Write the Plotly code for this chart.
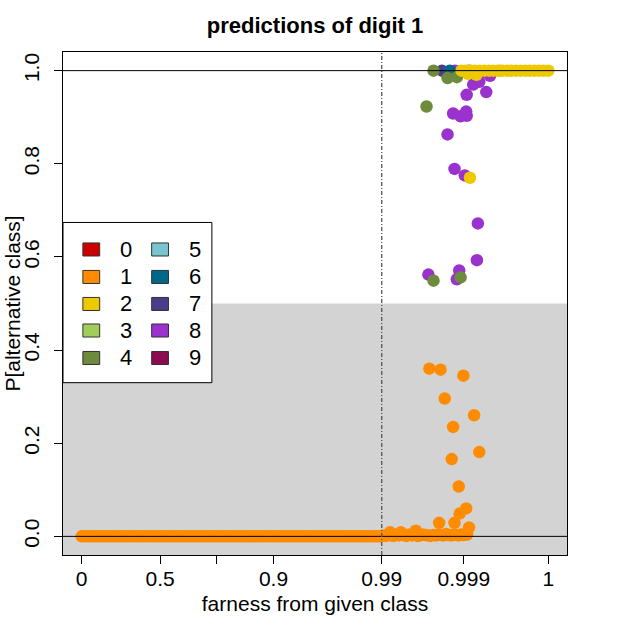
import plotly.graph_objects as go

# eje x transformado: posicion (0-1) de cada marca de "farness"
x_tick_pos = [0.0, 0.168, 0.288, 0.411, 0.643, 0.819, 1.0]
x_tick_lab = ["0", "0.5", "", "0.9", "0.99", "0.999", "1"]
y_tick_pos = [0.0, 0.2, 0.4, 0.6, 0.8, 1.0]
y_tick_lab = ["0.0", "0.2", "0.4", "0.6", "0.8", "1.0"]

digits = ["0", "1", "2", "3", "4", "5", "6", "7", "8", "9"]
colores = ["#CD0000", "#FF8C00", "#EEC900", "#A2CD5A", "#6E8B3D",
           "#7AC5CD", "#00688B", "#483D8B", "#9A32CD", "#8B0A50"]

# digito 1 (naranja): banda densa cerca de 0 y puntos dispersos
uno_x = [0.000, 0.006, 0.011, 0.017, 0.023, 0.029, 0.034, 0.040, 0.046, 0.052,
         0.058, 0.063, 0.069, 0.075, 0.081, 0.087, 0.093, 0.098, 0.104, 0.110,
         0.116, 0.122, 0.128, 0.133, 0.139, 0.145, 0.151, 0.157, 0.163, 0.169,
         0.175, 0.180, 0.186, 0.192, 0.198, 0.204, 0.210, 0.215, 0.221, 0.227,
         0.233, 0.239, 0.245, 0.250, 0.256, 0.262, 0.268, 0.274, 0.280, 0.285,
         0.291, 0.297, 0.303, 0.309, 0.315, 0.320, 0.326, 0.332, 0.338, 0.344,
         0.350, 0.355, 0.361, 0.367, 0.373, 0.379, 0.385, 0.390, 0.396, 0.402,
         0.408, 0.414, 0.420, 0.425, 0.431, 0.437, 0.443, 0.449, 0.455, 0.460,
         0.466, 0.472, 0.478, 0.484, 0.490, 0.495, 0.501, 0.507, 0.513, 0.519,
         0.525, 0.530, 0.536, 0.542, 0.548, 0.554, 0.560, 0.565, 0.571, 0.577,
         0.583, 0.589, 0.595, 0.600, 0.606, 0.612, 0.618, 0.624, 0.630, 0.636,
         0.641, 0.647, 0.652, 0.658, 0.663, 0.669, 0.674, 0.680, 0.686, 0.692,
         0.697, 0.703, 0.708, 0.714, 0.720, 0.725, 0.731, 0.737, 0.742, 0.748,
         0.753, 0.759, 0.764, 0.770, 0.775, 0.781, 0.786, 0.792, 0.797, 0.803,
         0.808, 0.813, 0.818, 0.822, 0.826,
         0.745, 0.769, 0.818, 0.778, 0.841, 0.796, 0.852, 0.793, 0.808, 0.824,
         0.810, 0.766, 0.799, 0.830, 0.716, 0.684, 0.661]
uno_y = [0.0] * 111 + \
        [0.002, 0.001, 0.003, 0.002, 0.001, 0.004, 0.002, 0.003, 0.002, 0.001,
         0.004, 0.002, 0.003, 0.001, 0.002, 0.004, 0.003, 0.002, 0.001, 0.003,
         0.002, 0.004, 0.003, 0.002, 0.005, 0.003, 0.002, 0.004, 0.003, 0.002,
         0.004, 0.003, 0.005, 0.004] + \
        [0.360, 0.358, 0.345, 0.296, 0.260, 0.235, 0.181, 0.166, 0.107, 0.060,
         0.049, 0.029, 0.029, 0.019, 0.012, 0.009, 0.009]

# digito 2 (amarillo)
dos_x = [0.814, 0.824, 0.834, 0.843, 0.853, 0.863, 0.873, 0.882, 0.892, 0.902,
         0.912, 0.921, 0.931, 0.941, 0.951, 0.960, 0.970, 0.980, 0.990, 1.000,
         0.846, 0.828, 0.832]
dos_y = [1.0] * 20 + [0.991, 0.993, 0.770]

# digito 3
tres_x = [0.896]
tres_y = [1.0]

# digito 4 (olivo)
cuatro_x = [0.754, 0.784, 0.804, 0.739, 0.754, 0.812]
cuatro_y = [1.0, 0.984, 0.986, 0.923, 0.549, 0.556]

# digito 6 y 7
seis_x = [0.789]
seis_y = [1.0]
siete_x = [0.772]
siete_y = [1.0]

# digito 8 (morado)
ocho_x = [0.800, 0.830, 0.860, 0.839, 0.852, 0.875, 0.825, 0.867, 0.796, 0.812,
          0.824, 0.825, 0.784, 0.799, 0.821, 0.849, 0.847, 0.743, 0.809, 0.804]
ocho_y = [1.0, 1.0, 0.997, 0.970, 0.976, 0.989, 0.948, 0.954, 0.908, 0.902,
          0.912, 0.903, 0.863, 0.789, 0.775, 0.672, 0.593, 0.562, 0.571, 0.552]

series = [("8", ocho_x, ocho_y), ("3", tres_x, tres_y), ("7", siete_x, siete_y),
          ("6", seis_x, seis_y), ("4", cuatro_x, cuatro_y), ("2", dos_x, dos_y),
          ("1", uno_x, uno_y)]

fig = go.Figure()
for d, xs, ys in series:
    fig.add_trace(go.Scatter(
        x=xs, y=ys, mode="markers", name=d, showlegend=False,
        marker=dict(size=12.5, color=colores[int(d)], line=dict(width=0)),
        hoverinfo="skip"))

shapes = [
    # fondo gris para P < 0.5
    dict(type="rect", xref="x", yref="y", x0=-0.04, x1=1.04, y0=-0.04, y1=0.5,
         fillcolor="#D3D3D3", line=dict(width=0), layer="below"),
    dict(type="line", xref="x", yref="y", x0=-0.04, x1=1.04, y0=0, y1=0,
         line=dict(color="black", width=1), layer="above"),
    dict(type="line", xref="x", yref="y", x0=-0.04, x1=1.04, y0=1, y1=1,
         line=dict(color="black", width=1), layer="above"),
    dict(type="line", xref="x", yref="y", x0=0.643, x1=0.643, y0=-0.04, y1=1.04,
         line=dict(color="#555555", width=1.3, dash="4px,2px,1px,2px"), layer="above"),
    # caja de leyenda
    dict(type="rect", xref="x", yref="y", x0=-0.04, x1=0.279, y0=0.330, y1=0.674,
         fillcolor="white", line=dict(color="black", width=1), layer="above"),
]

annotations = [
    # titulo del eje y como anotacion (el standoff no aplica sin automargin)
    dict(text="P[alternative class]", x=-0.101, y=0.5, xref="paper", yref="paper",
         textangle=-90, showarrow=False, xanchor="center", yanchor="middle",
         font=dict(size=21, color="black")),
]
col_sq = [0.0206, 0.168]
col_tx = [0.094, 0.243]
filas = [0.616, 0.557, 0.499, 0.442, 0.383]
for i, d in enumerate(digits):
    c, r = divmod(i, 5)
    shapes.append(dict(type="rect", xref="x", yref="y",
                       x0=col_sq[c] - 0.018, x1=col_sq[c] + 0.018,
                       y0=filas[r] - 0.014, y1=filas[r] + 0.014,
                       fillcolor=colores[i], line=dict(color="#333333", width=1),
                       layer="above"))
    annotations.append(dict(text=d, x=col_tx[c], y=filas[r], xref="x", yref="y",
                            showarrow=False, font=dict(size=22, color="black")))

fig.update_layout(
    width=630, height=630,
    font=dict(family="Liberation Sans, Arial, sans-serif", size=21, color="black"),
    title=dict(text="<b>predictions of digit 1</b>", x=0.5, xref="paper",
               y=1 - 25.5 / 630, yref="container", yanchor="middle", xanchor="center",
               font=dict(size=22, color="black")),
    plot_bgcolor="white", paper_bgcolor="white",
    margin=dict(l=63, r=63, t=52, b=75),
    shapes=shapes, annotations=annotations,
)
fig.update_xaxes(
    range=[-0.04, 1.04], tickvals=x_tick_pos, ticktext=x_tick_lab, automargin=False,
    ticklabelstandoff=-3,
    showgrid=False, zeroline=False, showline=True, mirror=True,
    linecolor="black", linewidth=1, ticks="outside", ticklen=8, tickcolor="black",
    tickfont=dict(size=21),
    title=dict(text="farness from given class", font=dict(size=21), standoff=7),
)
fig.update_yaxes(
    range=[-0.04, 1.04], tickvals=y_tick_pos, ticktext=y_tick_lab, tickangle=-90,
    automargin=False, ticklabelstandoff=7,
    showgrid=False, zeroline=False, showline=True, mirror=True,
    linecolor="black", linewidth=1, ticks="outside", ticklen=8, tickcolor="black",
    tickfont=dict(size=21),
)

# quitar el margen del body para que la figura empiece en (0, 0)
fig.write_html("out.html", config={"displayModeBar": False},
               post_script="document.body.style.margin = '0px';")
